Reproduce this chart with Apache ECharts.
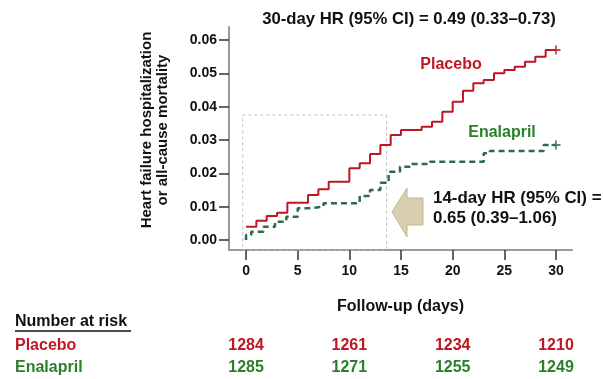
<!DOCTYPE html>
<html>
<head>
<meta charset="utf-8">
<script src="https://cdn.jsdelivr.net/npm/echarts@6/dist/echarts.min.js"></script>
<style>
  html, body { margin: 0; padding: 0; background: #fff; }
  #chart { width: 603px; height: 379px; }
</style>
</head>
<body>
<div id="chart"></div>
<script>
// step curves: [day, cumulative event rate]
const placeboCurve = [
  [0, 0.004], [1, 0.0058], [2, 0.0072], [3, 0.0082], [4, 0.0112], [6, 0.0135],
  [7, 0.0152], [8, 0.0175], [10, 0.0215], [11, 0.023], [12, 0.0258], [13, 0.0285],
  [14, 0.0315], [15, 0.033], [17, 0.034], [18, 0.0355], [19, 0.0385], [20, 0.0415],
  [21, 0.0448], [22, 0.047], [23, 0.048], [24, 0.050], [25, 0.051], [26, 0.052],
  [27, 0.0535], [28, 0.055], [29, 0.057], [30, 0.057]
];
const enalaprilCurve = [
  [0, 0], [0, 0.0015], [0.5, 0.0025], [1.7, 0.004], [2.8, 0.0055], [3.9, 0.007],
  [5, 0.0095], [6, 0.010], [7.5, 0.011], [11, 0.0132], [12, 0.015], [13, 0.0172],
  [13.8, 0.0205], [14.9, 0.022], [16, 0.0228], [17.8, 0.0235], [23, 0.026],
  [23.6, 0.0267], [28.8, 0.0285], [30, 0.0285]
];
const xTicks = [0, 5, 10, 15, 20, 25, 30];
const yTicks = [0, 0.01, 0.02, 0.03, 0.04, 0.05, 0.06];

// number at risk
const riskDays = [0, 10, 20, 30];
const placeboRisk = [1284, 1261, 1234, 1210];
const enalaprilRisk = [1285, 1271, 1255, 1249];

const RED = '#be1622';
const GREEN_LINE = '#2f6b4a';
const GREEN_TXT = '#2a7f2a';
const FONT = '"Liberation Sans", Arial, sans-serif';
const PLUS = 'path://M4,0H6V10H4Z M0,4H10V6H0Z';

const chart = echarts.init(document.getElementById('chart'));

const option = {
  backgroundColor: '#ffffff',
  animation: false,
  textStyle: { fontFamily: FONT },
  title: {
    text: '30-day HR (95% CI) = 0.49 (0.33\u20130.73)',
    left: 404, top: 6, textAlign: 'center',
    textStyle: { fontSize: 16.7, fontWeight: 'bold', color: '#111', fontFamily: FONT }
  },
  grid: { left: 229, top: 27, width: 343, height: 223 },
  xAxis: {
    type: 'value', min: -1.65, max: 31.55,
    name: 'Follow-up (days)', nameLocation: 'middle', nameGap: 49,
    nameTextStyle: { fontSize: 16, fontWeight: 'bold', color: '#111', fontFamily: FONT },
    axisLine: { onZero: false, lineStyle: { color: '#9a9a9a', width: 2 } },
    axisTick: { customValues: xTicks, length: 10, lineStyle: { color: '#333', width: 1.5 } },
    axisLabel: { customValues: xTicks, margin: 14, fontSize: 14, fontWeight: 'bold', color: '#111' },
    splitLine: { show: false }
  },
  yAxis: {
    type: 'value', min: -0.003, max: 0.0639,
    axisLine: { onZero: false, lineStyle: { color: '#9a9a9a', width: 2 } },
    axisTick: { customValues: yTicks, length: 10, lineStyle: { color: '#333', width: 1.5 } },
    axisLabel: {
      customValues: yTicks, margin: 12, fontSize: 14, fontWeight: 'bold', color: '#111',
      formatter: v => v.toFixed(2)
    },
    splitLine: { show: false }
  },
  series: [
    {
      name: 'Placebo', type: 'line', step: 'end', data: placeboCurve,
      showSymbol: false, lineStyle: { color: RED, width: 2 },
      markArea: {
        silent: true,
        itemStyle: { color: 'transparent', borderColor: '#bdbdbd', borderWidth: 1, borderType: [3, 3] },
        data: [[{ coord: [-0.32, -0.003] }, { coord: [13.6, 0.0375] }]]
      }
    },
    {
      name: 'Enalapril', type: 'line', step: 'end', data: enalaprilCurve,
      showSymbol: false, lineStyle: { color: GREEN_LINE, width: 2.5, type: [6, 4] }
    },
    {
      type: 'scatter', symbol: PLUS, symbolSize: 9,
      data: [placeboCurve[placeboCurve.length - 1]], itemStyle: { color: RED }
    },
    {
      type: 'scatter', symbol: PLUS, symbolSize: 9,
      data: [enalaprilCurve[enalaprilCurve.length - 1]], itemStyle: { color: GREEN_LINE }
    }
  ]
};
chart.setOption(option);

// annotations, arrow and the number-at-risk table
const boldText = (x, y, text, color, extra) => ({
  type: 'text', x: x, y: y, silent: true,
  style: Object.assign({
    text: text, fill: color, fontSize: 16, fontWeight: 'bold', fontFamily: FONT,
    textAlign: 'left', textVerticalAlign: 'middle'
  }, extra || {})
});

const graphics = [
  // y axis name (two rotated lines)
  {
    type: 'text', x: 155, y: 130, rotation: Math.PI / 2, silent: true,
    style: {
      text: 'Heart failure hospitalization\nor all-cause mortality',
      fill: '#111', fontSize: 15, fontWeight: 'bold', fontFamily: FONT, lineHeight: 16,
      textAlign: 'center', textVerticalAlign: 'middle'
    }
  },
  boldText(451, 65, 'Placebo', RED, { textAlign: 'center' }),
  boldText(502, 133, 'Enalapril', GREEN_TXT, { textAlign: 'center' }),
  {
    type: 'polygon', silent: true,
    shape: { points: [[392, 212], [407, 188], [407, 198], [423, 198], [423, 225], [407, 225], [407, 237]] },
    style: { fill: '#d8ceb0', stroke: '#c4b78f', lineWidth: 1 }
  },
  boldText(433, 198, '14-day HR (95% CI) =', '#111', { fontSize: 16.9 }),
  boldText(433, 218, '0.65 (0.39\u20131.06)', '#111', { fontSize: 16.9 }),
  boldText(15, 322, 'Number at risk', '#111'),
  { type: 'line', silent: true, shape: { x1: 15, y1: 331, x2: 131, y2: 331 }, style: { stroke: '#111', lineWidth: 1.5 } },
  boldText(15, 346, 'Placebo', RED),
  boldText(15, 368, 'Enalapril', GREEN_TXT)
];

riskDays.forEach((d, i) => {
  const px = chart.convertToPixel({ xAxisIndex: 0 }, d);
  graphics.push(boldText(px, 346, String(placeboRisk[i]), RED, { textAlign: 'center' }));
  graphics.push(boldText(px, 368, String(enalaprilRisk[i]), GREEN_TXT, { textAlign: 'center' }));
});

chart.setOption({ graphic: graphics });
</script>
</body>
</html>
